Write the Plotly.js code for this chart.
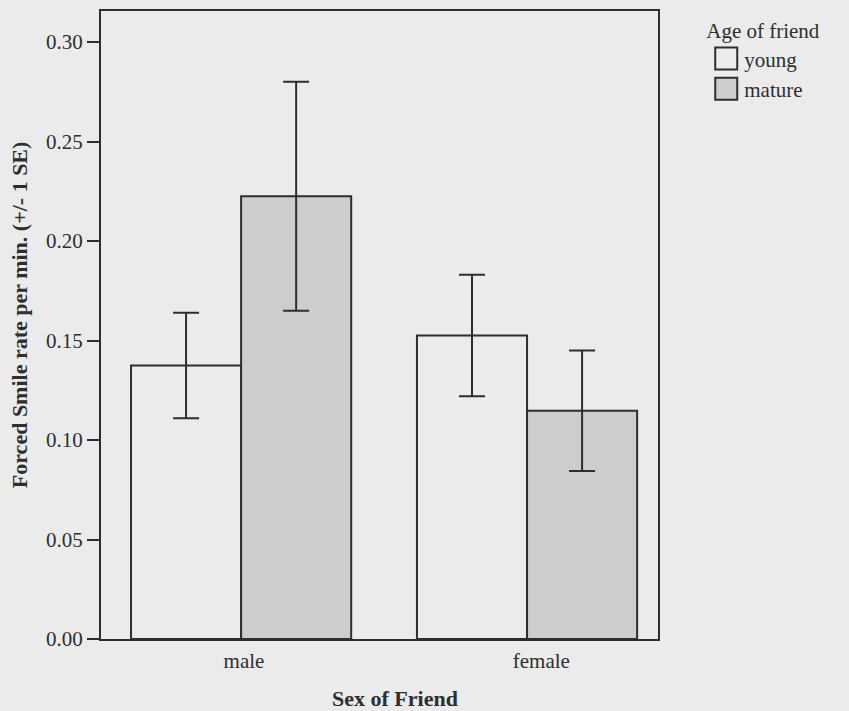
<!DOCTYPE html>
<html>
<head>
<meta charset="utf-8">
<script src="https://cdn.plot.ly/plotly-3.0.1.min.js"></script>
<style>
  html, body { margin: 0; padding: 0; background: #ebebeb; }
  #chart { width: 849px; height: 711px; }
</style>
</head>
<body>
<div id="chart"></div>
<script>
// Forced smile rate per minute by sex and age of friend (mean +/- 1 SE)
const categories = ['male', 'female'];
const seriesNames = ['young', 'mature'];
const youngMean = [0.1375, 0.1525];
const youngSE = [0.0265, 0.0305];
const matureMean = [0.2225, 0.1147];
const matureSE = [0.0575, 0.0303];

const ink = '#2e2e2e';
const paper = '#ebebeb';
const font = '"Liberation Serif", "Times New Roman", serif';
const xPos = categories.map((_, i) => i);

function errorBars(se) {
  return { type: 'data', array: se, visible: true, color: ink, thickness: 2, width: 13 };
}

const traces = [
  {
    type: 'bar', name: seriesNames[0], x: xPos, y: youngMean,
    marker: { color: paper, line: { color: ink, width: 2 } },
    error_y: errorBars(youngSE)
  },
  {
    type: 'bar', name: seriesNames[1], x: xPos, y: matureMean,
    marker: { color: '#cdcdcd', line: { color: ink, width: 2 } },
    error_y: errorBars(matureSE)
  }
];

const layout = {
  width: 849, height: 711,
  margin: { l: 101, r: 191, t: 11, b: 72 },
  paper_bgcolor: paper, plot_bgcolor: paper,
  font: { family: font, size: 21, color: ink },
  barmode: 'group', bargap: 0.23, bargroupgap: 0,
  showlegend: true,
  legend: {
    x: 1.083, xanchor: 'left', y: 1.0, yanchor: 'top',
    bgcolor: 'rgba(0,0,0,0)', font: { family: font, size: 21, color: ink },
    title: { text: 'Age of friend', font: { family: font, size: 21, color: ink } },
    tracegroupgap: 0
  },
  xaxis: {
    range: [-0.49, 1.458], showgrid: false, zeroline: false,
    showline: true, linecolor: ink, linewidth: 2, mirror: true,
    ticks: '', tickvals: [0.01, 1.05], ticktext: categories,
    ticklabelstandoff: 2,
    tickfont: { family: font, size: 21, color: ink }
  },
  yaxis: {
    range: [0, 0.3156], showgrid: false, zeroline: false,
    showline: true, linecolor: ink, linewidth: 2, mirror: true,
    ticks: 'outside', ticklen: 12, tickwidth: 2, tickcolor: ink,
    dtick: 0.05, tick0: 0, tickformat: '.2f',
    tickfont: { family: font, size: 21, color: ink }
  },
  annotations: [
    {
      text: '<b>Forced Smile rate per min. (+/- 1 SE)</b>', textangle: -90,
      xref: 'paper', yref: 'paper', x: -0.145, y: 0.516,
      xanchor: 'center', yanchor: 'middle', showarrow: false,
      font: { family: font, size: 22, color: ink }
    },
    {
      text: '<b>Sex of Friend</b>',
      xref: 'paper', yref: 'paper', x: 0.527, y: -0.0955,
      xanchor: 'center', yanchor: 'middle', showarrow: false,
      font: { family: font, size: 22, color: ink }
    }
  ]
};

Plotly.newPlot('chart', traces, layout, { staticPlot: true }).then(gd => {
  // larger boxed swatches for the key, sitting close to their labels
  gd.querySelectorAll('.legend .legendpoints path').forEach(p => {
    p.setAttribute('d', 'M13,11H-9V-11H13Z');
  });
});
</script>
</body>
</html>
